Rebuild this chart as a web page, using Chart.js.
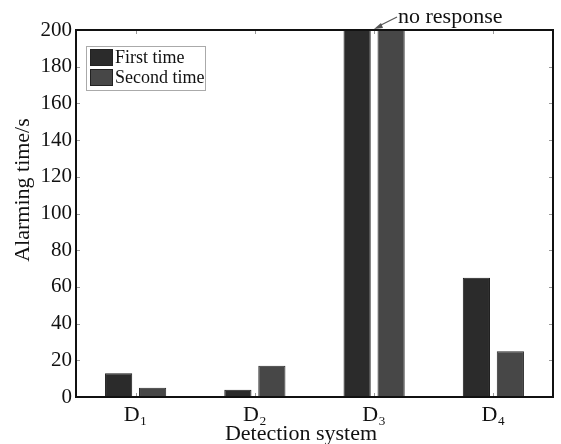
<!DOCTYPE html>
<html>
<head>
<meta charset="utf-8">
<script src="https://cdn.jsdelivr.net/npm/chart.js@4/dist/chart.umd.min.js"></script>
<style>
  html, body { margin: 0; padding: 0; background: #fff; }
  #wrap { width: 561px; height: 444px; }
</style>
</head>
<body>
<div id="wrap"><canvas id="chart"></canvas></div>
<script>
// data
const systems = ['D\u2081', 'D\u2082', 'D\u2083', 'D\u2084'];
const firstTime = [13, 4, 200, 65];
const secondTime = [5, 17, 200, 25];
const seriesNames = ['First time', 'Second time'];
const yTicks = [0, 20, 40, 60, 80, 100, 120, 140, 160, 180, 200];

const serif = '"Liberation Serif", "DejaVu Serif", serif';

// matlab-like inside tick marks, box, titles, legend and the "no response" note
const decorations = {
  id: 'decorations',
  afterDraw(chart) {
    const ctx = chart.ctx;
    const a = chart.chartArea;
    const x = chart.scales.x, y = chart.scales.y;
    ctx.save();
    ctx.strokeStyle = '#999';
    ctx.lineWidth = 1;
    yTicks.forEach(v => {
      const py = Math.round(y.getPixelForValue(v)) + 0.5;
      ctx.beginPath();
      ctx.moveTo(a.left, py); ctx.lineTo(a.left + 4, py);
      ctx.moveTo(a.right, py); ctx.lineTo(a.right - 4, py);
      ctx.stroke();
    });
    systems.forEach((s, i) => {
      const px = Math.round(x.getPixelForValue(i)) + 0.5;
      ctx.beginPath();
      ctx.moveTo(px, a.bottom); ctx.lineTo(px, a.bottom - 4);
      ctx.moveTo(px, a.top); ctx.lineTo(px, a.top + 4);
      ctx.stroke();
    });
    // box
    ctx.strokeStyle = '#111';
    ctx.lineWidth = 2;
    ctx.strokeRect(a.left, a.top, a.right - a.left, a.bottom - a.top);

    // axis titles
    ctx.fillStyle = '#111';
    ctx.font = '22px ' + serif;
    ctx.textAlign = 'center';
    ctx.textBaseline = 'alphabetic';
    ctx.fillText('Detection system', 301, 440);
    ctx.save();
    ctx.translate(29, 190);
    ctx.rotate(-Math.PI / 2);
    ctx.fillText('Alarming time/s', 0, 0);
    ctx.restore();

    // legend
    ctx.textAlign = 'left';
    const lx = 86, ly = 46;
    ctx.lineWidth = 1;
    ctx.strokeStyle = '#aaa';
    ctx.strokeRect(lx + 0.5, ly + 0.5, 119, 44);
    ctx.font = '18px ' + serif;
    ctx.textBaseline = 'middle';
    chart.data.datasets.forEach((ds, i) => {
      const ry = ly + 3 + i * 20;
      ctx.fillStyle = ds.backgroundColor;
      ctx.fillRect(lx + 4, ry, 23, 17);
      ctx.strokeStyle = '#222';
      ctx.strokeRect(lx + 4.5, ry + 0.5, 22, 16);
      ctx.fillStyle = '#111';
      ctx.fillText(ds.label, lx + 29, ry + 9);
    });

    // annotation
    ctx.font = '22px ' + serif;
    ctx.fillStyle = '#111';
    ctx.textBaseline = 'alphabetic';
    ctx.fillText('no response', 398, 23);
    ctx.strokeStyle = '#555';
    ctx.lineWidth = 1.2;
    ctx.beginPath();
    ctx.moveTo(397, 17);
    ctx.lineTo(379, 26);
    ctx.stroke();
    ctx.fillStyle = '#555';
    ctx.beginPath();
    ctx.moveTo(374, 29);
    ctx.lineTo(381, 23);
    ctx.lineTo(383, 28);
    ctx.closePath();
    ctx.fill();
    ctx.restore();
  }
};

new Chart(document.getElementById('chart'), {
  type: 'bar',
  data: {
    labels: systems,
    datasets: [
      { label: seriesNames[0], data: firstTime, backgroundColor: '#2b2b2b', borderColor: '#1a1a1a', borderWidth: 1 },
      { label: seriesNames[1], data: secondTime, backgroundColor: '#474747', borderColor: '#2a2a2a', borderWidth: 1 }
    ]
  },
  plugins: [decorations],
  options: {
    responsive: true,
    maintainAspectRatio: false,
    animation: false,
    layout: { padding: { top: 30, right: 8, left: 0, bottom: 0 } },
    datasets: { bar: { categoryPercentage: 0.57, barPercentage: 0.8 } },
    plugins: { legend: { display: false }, tooltip: { enabled: false } },
    scales: {
      x: {
        grid: { display: false, drawTicks: false },
        border: { display: false },
        ticks: { color: '#111', font: { family: serif, size: 22 }, padding: 5 },
        afterFit(s) { s.height = 47; }
      },
      y: {
        min: 0, max: 200,
        grid: { display: false, drawTicks: false },
        border: { display: false },
        afterBuildTicks(s) { s.ticks = yTicks.map(v => ({ value: v })); },
        ticks: { color: '#111', font: { family: serif, size: 21 }, padding: 4 },
        afterFit(s) { s.width = 76; }
      }
    }
  }
});
</script>
</body>
</html>
